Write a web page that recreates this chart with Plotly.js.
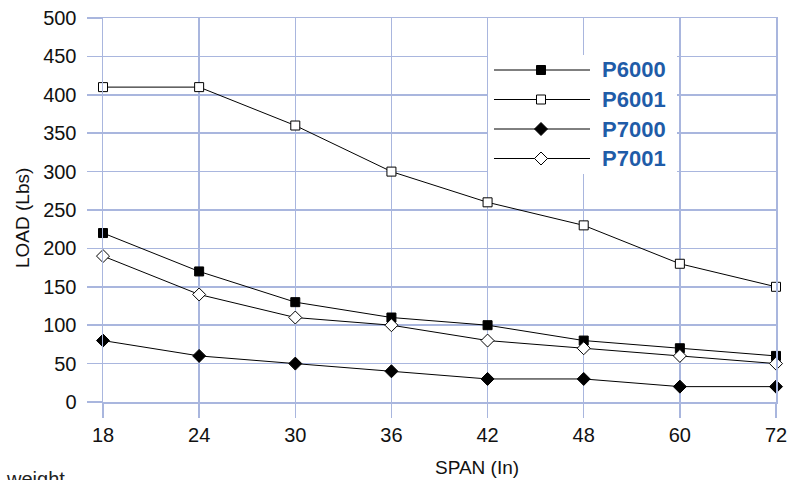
<!DOCTYPE html>
<html>
<head>
<meta charset="utf-8">
<script src="https://cdn.plot.ly/plotly-3.0.1.min.js"></script>
<style>html,body{margin:0;padding:0;background:#fff;}#chart{width:789px;height:480px;}</style>
</head>
<body>
<div id="chart"></div>
<script>
// ---- data ----
const spans = ['18', '24', '30', '36', '42', '48', '60', '72'];
const seriesNames = ['P6000', 'P6001', 'P7000', 'P7001'];
const p6000 = [220, 170, 130, 110, 100, 80, 70, 60];
const p6001 = [410, 410, 360, 300, 260, 230, 180, 150];
const p7000 = [80, 60, 50, 40, 30, 30, 20, 20];
const p7001 = [190, 140, 110, 100, 80, 70, 60, 50];
const yTickVals = [0, 50, 100, 150, 200, 250, 300, 350, 400, 450, 500];
const xTitle = 'SPAN (In)';
const yTitle = 'LOAD (Lbs)';
const footText = 'weight';

// ---- styles ----
const gridColor = '#a9b6de';
const fam = 'Liberation Sans, Arial, sans-serif';
const tickFont = {family: fam, size: 20, color: '#111'};
const titleFont = {family: fam, size: 19, color: '#111'};
const legendFont = {family: fam, size: 22, color: '#1f5ca8', weight: 'bold'};
const markerStyles = [
  {symbol: 'square', size: 9, color: '#000', line: {color: '#000', width: 1}},
  {symbol: 'square', size: 9, color: '#fff', line: {color: '#000', width: 1}},
  {symbol: 'diamond', size: 10, color: '#000', line: {color: '#000', width: 1}},
  {symbol: 'diamond', size: 10, color: '#fff', line: {color: '#000', width: 1}}
];
const seriesValues = [p6000, p6001, p7000, p7001];

const traces = [];
seriesValues.forEach((vals, i) => {
  traces.push({
    type: 'scatter', mode: 'lines+markers', name: seriesNames[i],
    x: spans, y: vals, xaxis: 'x', yaxis: 'y',
    line: {color: '#000', width: 1},
    marker: markerStyles[i], cliponaxis: false, hoverinfo: 'x+y+name'
  });
});

// custom legend in its own small axes (pixel-like units inside the legend box)
const legW = 189, legH = 119;
const rowY = i => 15 + 29.5 * i;
const legendAnnotations = [];
seriesNames.forEach((nm, i) => {
  traces.push({
    type: 'scatter', mode: 'lines', x: [6, 102], y: [rowY(i), rowY(i)],
    xaxis: 'x2', yaxis: 'y2', line: {color: '#000', width: 1}, hoverinfo: 'skip'
  });
  traces.push({
    type: 'scatter', mode: 'markers', x: [53], y: [rowY(i)],
    xaxis: 'x2', yaxis: 'y2', marker: markerStyles[i], hoverinfo: 'skip', cliponaxis: false
  });
  legendAnnotations.push({
    xref: 'x2', yref: 'y2', x: 112, y: rowY(i), xanchor: 'left', yanchor: 'middle',
    text: nm, showarrow: false, font: legendFont
  });
});

const L = 103, R = 13, T = 18, B = 78;
const W = 789, H = 480;
const pw = W - L - R, ph = H - T - B;
const px = v => (v - L) / pw;
const py = v => (H - B - v) / ph;

const layout = {
  width: W, height: H,
  margin: {l: L, r: R, t: T, b: B, pad: 0},
  paper_bgcolor: '#fff', plot_bgcolor: '#fff',
  showlegend: false,
  xaxis: {
    type: 'category', range: [0, spans.length - 1], fixedrange: true,
    showgrid: true, gridcolor: gridColor, gridwidth: 1.5,
    showline: true, mirror: true, linecolor: gridColor, linewidth: 1.5,
    ticks: 'outside', ticklen: 14, tickwidth: 1.5, tickcolor: gridColor,
    tickfont: tickFont, zeroline: false
  },
  yaxis: {
    range: [0, 500], tickvals: yTickVals, fixedrange: true,
    showgrid: true, gridcolor: gridColor, gridwidth: 1.5,
    showline: true, mirror: true, linecolor: gridColor, linewidth: 1.5,
    ticks: 'outside', ticklen: 15, tickwidth: 1.5, tickcolor: gridColor,
    tickfont: tickFont, zeroline: false, ticklabelstandoff: 6
  },
  xaxis2: {domain: [px(488), px(677)], range: [0, legW], anchor: 'y2', visible: false, fixedrange: true},
  yaxis2: {domain: [py(174), py(55)], range: [legH, 0], anchor: 'x2', visible: false, fixedrange: true},
  shapes: [{
    type: 'rect', xref: 'x2', yref: 'y2', x0: 0, x1: legW, y0: 0, y1: legH,
    fillcolor: '#fff', line: {width: 0}, layer: 'below'
  }],
  annotations: legendAnnotations.concat([
    {xref: 'paper', yref: 'paper', x: px(477), y: py(467), xanchor: 'center', yanchor: 'middle',
     text: xTitle, showarrow: false, font: titleFont},
    {xref: 'paper', yref: 'paper', x: px(23), y: py(218), xanchor: 'center', yanchor: 'middle',
     text: yTitle, textangle: -90, showarrow: false, font: titleFont},
    {xref: 'paper', yref: 'paper', x: px(4), y: py(466), xanchor: 'left', yanchor: 'top',
     text: footText, showarrow: false, font: {family: fam, size: 20, color: '#222'}}
  ])
};

Plotly.newPlot('chart', traces, layout, {staticPlot: true, displayModeBar: false});
</script>
</body>
</html>
